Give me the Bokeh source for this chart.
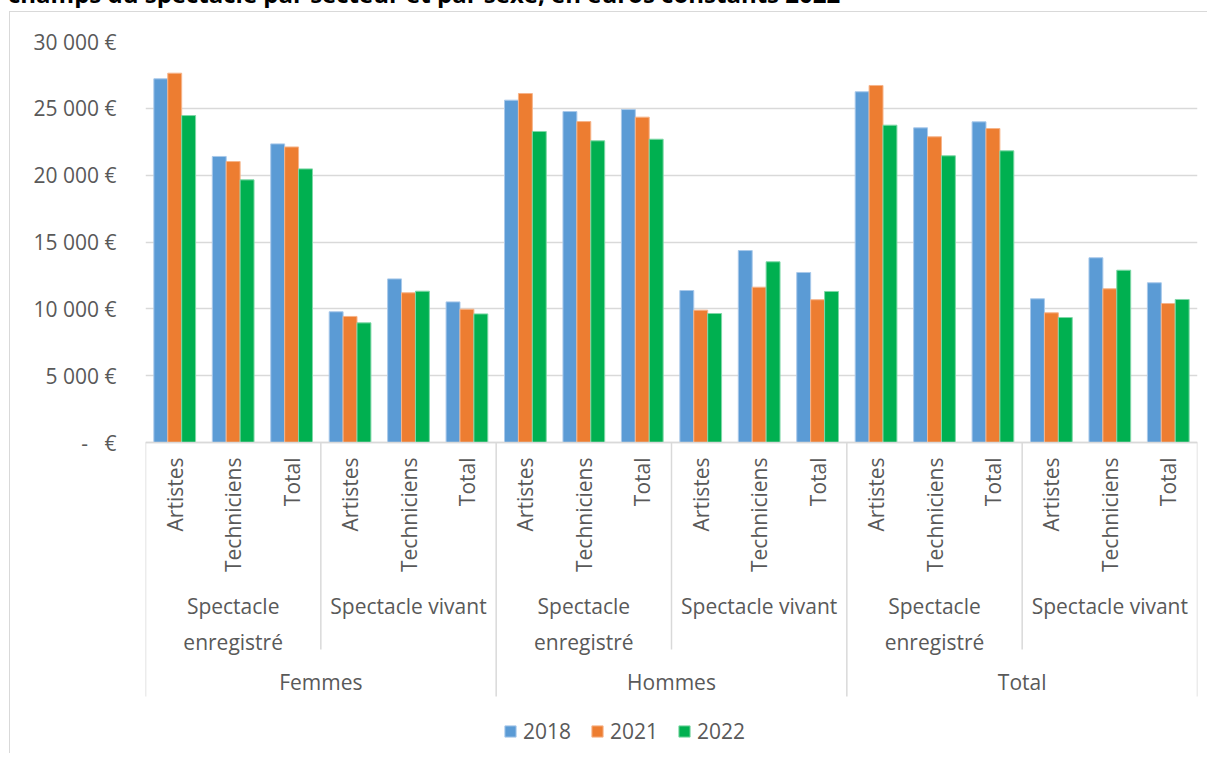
import numpy as np
from bokeh.plotting import figure
from bokeh.layouts import column
from bokeh.models import (Range1d, FixedTicker, Legend, LegendItem, ColumnDataSource, Div)
from bokeh.core.properties import value
from bokeh.embed import file_html
from bokeh.resources import INLINE

# ---------------- data ----------------
title_text = "champs du spectacle par secteur et par sexe, en euros constants 2022"
sexes = ["Femmes", "Hommes", "Total"]
sectors = ["Spectacle enregistré", "Spectacle vivant"]
sector_display = ["Spectacle\nenregistré", "Spectacle vivant"]
metiers = ["Artistes", "Techniciens", "Total"]
years = ["2018", "2021", "2022"]

v2018 = [27210, 21400, 22340, 9780, 12240, 10520,
         25610, 24760, 24910, 11370, 14360, 12720,
         26240, 23540, 23990, 10750, 13820, 11950]
v2021 = [27630, 21020, 22110, 9430, 11200, 9970,
         26110, 24010, 24340, 9900, 11620, 10680,
         26710, 22870, 23490, 9700, 11500, 10400]
v2022 = [24460, 19650, 20470, 8950, 11320, 9620,
         23270, 22570, 22690, 9650, 13520, 11300,
         23740, 21450, 21820, 9350, 12890, 10700]

ytick_values = [0, 5000, 10000, 15000, 20000, 25000, 30000]
ytick_labels = ["-\u00a0\u00a0\u00a0€", "5\u00a0000\u00a0€", "10\u00a0000\u00a0€", "15\u00a0000\u00a0€",
                "20\u00a0000\u00a0€", "25\u00a0000\u00a0€", "30\u00a0000\u00a0€"]

# ---------------- styling ----------------
colors = ["#5B9BD5", "#ED7D31", "#00B050"]
edge_colors = ["#A9C9EA", "#F6B48A", "#7FD7A7"]
TXT = "#595959"
GRID = "#D9D9D9"
FONT = "Open Sans"
FS = "21px"

# layout helpers (reference pixel rows -> value units)
ZERO_PX = 442.0
PX_PER_VAL = 401.0 / 30000.0
def vy(py):
    return (ZERO_PX - py) / PX_PER_VAL

# partially visible title strip at the very top (cut off as in the source)
title_div = Div(
    text=('<div style="position:relative; top:-18px; left:8px; white-space:nowrap; '
          'font-family:\'Open Sans\'; font-weight:bold; font-size:24px; line-height:24px; '
          'color:#000000;">' + title_text + '</div>'),
    width=1200, height=8, margin=0, styles={"overflow": "hidden"})

n_cat = len(sexes) * len(sectors) * len(metiers)
W, H = 1198, 742
p = figure(width=W, height=H, output_backend="svg", toolbar_location=None,
           x_range=Range1d(0, n_cat), y_range=Range1d(vy(754), 30000),
           x_axis_location=None, min_border_left=135, min_border_right=11,
           min_border_top=29, min_border_bottom=0)
p.margin = (3, 0, 0, 9)
p.styles = {"border-left": "1px solid #D9D9D9", "border-top": "1px solid #D9D9D9"}
p.outline_line_color = None
p.background_fill_color = "white"
p.border_fill_color = "white"
p.xgrid.visible = False

# y axis
yax = p.yaxis[0]
yax.ticker = FixedTicker(ticks=ytick_values)
yax.major_label_overrides = {v: l for v, l in zip(ytick_values, ytick_labels)}
yax.axis_line_color = None
yax.major_tick_line_color = None
yax.minor_tick_line_color = None
yax.major_tick_out = 0
yax.major_tick_in = 0
yax.major_label_standoff = 29
yax.major_label_text_font = FONT
yax.major_label_text_font_size = FS
yax.major_label_text_color = TXT
p.ygrid.ticker = FixedTicker(ticks=ytick_values)
p.ygrid.grid_line_color = GRID
p.ygrid.grid_line_width = 1.5

# bars
centers = np.arange(n_cat) + 0.5
bw = 0.238
renderers = []
for k, (vals, c, ec) in enumerate(zip([v2018, v2021, v2022], colors, edge_colors)):
    src = ColumnDataSource(dict(x=centers + (k - 1) * bw, top=vals))
    r = p.vbar(x="x", top="top", bottom=0, width=bw, source=src,
               fill_color=c, line_color=ec, line_width=1)
    renderers.append(r)

# category axis line
p.segment(x0=[0], y0=[0], x1=[n_cat], y1=[0], line_color=GRID, line_width=1.5)

# separators
sec_b = np.arange(0, n_cat + 1, len(metiers))
sex_b = np.arange(0, n_cat + 1, len(metiers) * len(sectors))
short = [b for b in sec_b if b not in sex_b]
p.segment(x0=short, y0=[0] * len(short), x1=short, y1=[vy(649)] * len(short),
          line_color=GRID, line_width=1.5)
p.segment(x0=list(sex_b), y0=[0] * len(sex_b), x1=list(sex_b), y1=[vy(696)] * len(sex_b),
          line_color=GRID, line_width=1.5)

# level 3 labels (rotated)
met_labels = metiers * (len(sexes) * len(sectors))
p.text(x=list(centers), y=[vy(457)] * n_cat, text=met_labels, angle=np.pi / 2,
       text_align="right", text_baseline="middle", text_font=value(FONT),
       text_font_size=FS, text_color=TXT)

# level 2 labels
n_sec = len(sexes) * len(sectors)
sec_centers = (np.arange(n_sec) + 0.5) * len(metiers)
sec_labels = sector_display * len(sexes)
p.text(x=list(sec_centers), y=[vy(591)] * n_sec, text=sec_labels,
       text_align="center", text_baseline="top", text_line_height=1.3,
       text_font=value(FONT), text_font_size=FS, text_color=TXT)

# level 1 labels
sex_centers = (np.arange(len(sexes)) + 0.5) * len(metiers) * len(sectors)
p.text(x=list(sex_centers), y=[vy(681)] * len(sexes), text=sexes,
       text_align="center", text_baseline="middle",
       text_font=value(FONT), text_font_size=FS, text_color=TXT)

# legend
legend = Legend(items=[LegendItem(label=y, renderers=[r]) for y, r in zip(years, renderers)],
                orientation="horizontal", location=(358, 9))
legend.background_fill_alpha = 0
legend.border_line_color = None
legend.padding = 0
legend.margin = 0
legend.glyph_width = 14
legend.glyph_height = 14
legend.label_standoff = 6
legend.spacing = 19
legend.label_text_font = FONT
legend.label_text_font_size = FS
legend.label_text_color = TXT
p.add_layout(legend, "center")

layout = column(title_div, p, spacing=0)
open("out.html", "w").write(file_html(layout, INLINE))
